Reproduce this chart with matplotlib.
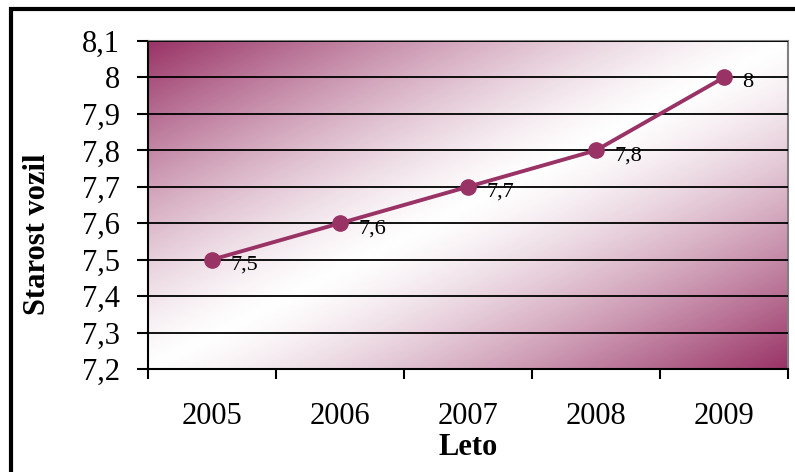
import numpy as np
import matplotlib
matplotlib.use("Agg")
import matplotlib.pyplot as plt
from matplotlib.colors import to_rgb
from matplotlib.ticker import FuncFormatter

plt.rcParams['font.family'] = ['Liberation Serif', 'DejaVu Serif']

# podatki
leta = ['2005', '2006', '2007', '2008', '2009']
starost = [7.5, 7.6, 7.7, 7.8, 8.0]
oznake = ['7,5', '7,6', '7,7', '7,8', '8']

barva = '#993366'

fig = plt.figure(figsize=(7.95, 4.72), dpi=100)
ax = fig.add_axes([148 / 795, 1 - 369 / 472, 640 / 795, 328 / 472])

# gradient ozadja (diagonalno, vogala vijolicna, sredina bela)
nx, ny = 400, 200
gx, gy = np.meshgrid(np.linspace(0, 1, nx), np.linspace(0, 1, ny))
d = np.abs((gx + gy) / 2 - 0.5) * 2
d = np.clip(d, 0, 1) ** 1.3
c = np.array(to_rgb(barva))
img = np.ones((ny, nx, 3)) * (1 - d[..., None]) + c * d[..., None]
ax.imshow(img, extent=[-0.5, 4.5, 7.2, 8.1], origin='upper', aspect='auto', zorder=0)

x = np.arange(len(leta))
ax.plot(x, starost, color=barva, lw=2.8, marker='o', ms=11, zorder=3)
for xi, yi, t in zip(x, starost, oznake):
    ax.annotate(t, (xi, yi), xytext=(13, -4), textcoords='offset points',
                fontsize=16, va='center', ha='left', zorder=4)

ax.set_xlim(-0.5, 4.5)
ax.set_ylim(7.2, 8.1)
ax.set_yticks(np.arange(7.2, 8.11, 0.1))
ax.yaxis.set_major_formatter(FuncFormatter(
    lambda v, p: ('%g' % round(v, 1)).replace('.', ',')))
ax.set_xticks(np.arange(-0.5, 4.6, 1))
ax.set_xticklabels([])
ax.set_xticks(x, minor=True)
ax.set_xticklabels(leta, minor=True)
ax.tick_params(axis='x', which='minor', length=0, pad=24, labelsize=22)
ax.tick_params(axis='x', which='major', length=7, width=1.5, direction='out')
ax.tick_params(axis='y', length=8, width=1.5, labelsize=22, pad=12)
ax.grid(axis='y', color='black', lw=1.3, zorder=1)
ax.set_axisbelow(False)
for s in ['top', 'right']:
    ax.spines[s].set_color('#808080')
    ax.spines[s].set_linewidth(1.5)
for s in ['left', 'bottom']:
    ax.spines[s].set_color('black')
    ax.spines[s].set_linewidth(1.5)

ax.set_xlabel('Leto', fontsize=22, fontweight='bold', labelpad=1)
ax.set_ylabel('Starost vozil', fontsize=22, fontweight='bold')
ax.yaxis.set_label_coords(-0.150, 0.41)

# okvir grafikona
fig.patches.append(plt.Rectangle((11 / 795, -0.05), 1.1, 1 - 9 / 472 + 0.05,
                                 transform=fig.transFigure, fill=False,
                                 edgecolor='black', lw=3))

fig.savefig('out.png', dpi=100)
